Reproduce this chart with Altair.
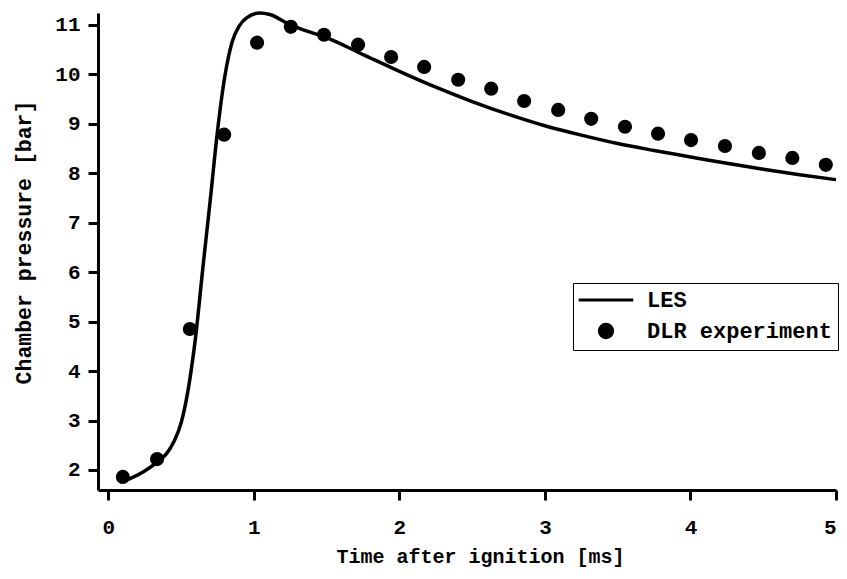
import altair as alt
import pandas as pd

# LES simulation curve (time [ms], pressure [bar])
les_t = [0.08, 0.16, 0.25, 0.335, 0.40, 0.45, 0.50, 0.55, 0.60, 0.65, 0.70, 0.75, 0.80,
         0.85, 0.90, 0.95, 1.04, 1.11, 1.25, 1.50, 1.75, 2.00, 2.25, 2.50, 2.75, 3.00,
         3.25, 3.50, 3.75, 4.00, 4.25, 4.50, 4.75, 5.00]
les_p = [1.76, 1.84, 1.98, 2.16, 2.33, 2.57, 2.95, 3.65, 4.70, 6.10, 7.45, 8.85, 9.95,
         10.65, 10.98, 11.14, 11.24, 11.21, 11.00, 10.74, 10.40, 10.06, 9.74, 9.45, 9.19, 8.96,
         8.77, 8.60, 8.46, 8.33, 8.20, 8.08, 7.97, 7.87]

# DLR experiment points
dlr_t = [0.10, 0.335, 0.56, 0.796, 1.022, 1.254, 1.482, 1.716, 1.943, 2.170, 2.404,
         2.631, 2.857, 3.091, 3.318, 3.55, 3.777, 4.004, 4.237, 4.47, 4.70, 4.93]
dlr_p = [1.86, 2.22, 4.85, 8.78, 10.64, 10.96, 10.80, 10.60, 10.35, 10.15, 9.89,
         9.71, 9.46, 9.28, 9.10, 8.94, 8.80, 8.67, 8.55, 8.41, 8.31, 8.17]

series_names = ["LES", "DLR experiment"]
legend_shapes = ["M-4.1,0H4.1", "circle"]
x_ticks = [0, 1, 2, 3, 4, 5]
y_ticks = [2, 3, 4, 5, 6, 7, 8, 9, 10, 11]

les_df = pd.DataFrame({"t": les_t, "p": les_p, "series": "LES"})
dlr_df = pd.DataFrame({"t": dlr_t, "p": dlr_p, "series": "DLR experiment"})

FONT = "Liberation Mono"

xscale = alt.Scale(domain=[-0.071, 5.0], nice=False, zero=False)
yscale = alt.Scale(domain=[1.595, 11.24], nice=False, zero=False)

xaxis = alt.Axis(values=x_ticks, title="Time after ignition [ms]", grid=False,
                 titleX=382, titleY=72, titleBaseline="alphabetic",
                 labelBaseline="alphabetic", labelPadding=33, format="d")
yaxis = alt.Axis(values=y_ticks, title="Chamber pressure [bar]", grid=False,
                 titleX=-68, titleY=229, titleBaseline="alphabetic", titleFontSize=21.5,
                 labelPadding=8, format="d")

line = alt.Chart(les_df).mark_line(color="black", strokeWidth=3.5, interpolate="monotone").encode(
    x=alt.X("t:Q", scale=xscale, axis=xaxis),
    y=alt.Y("p:Q", scale=yscale, axis=yaxis),
)

legend = alt.Legend(
    orient="none", legendX=475, legendY=270,
    strokeColor="black", fillColor="white", padding=6,
    symbolSize=177, symbolOffset=16, symbolStrokeWidth=3,
    symbolStrokeColor="black", symbolFillColor="black", symbolOpacity=1,
    labelOffset=30, rowPadding=7, labelLimit=400,
    labelFont=FONT, labelFontWeight="bold", labelFontSize=22, labelColor="black",
)

points = alt.Chart(dlr_df).mark_point(size=201, opacity=1, filled=True).encode(
    x=alt.X("t:Q", scale=xscale),
    y=alt.Y("p:Q", scale=yscale),
    color=alt.Color("series:N", title=None,
                    scale=alt.Scale(domain=series_names, range=["black", "black"]),
                    legend=legend),
    shape=alt.Shape("series:N", title=None,
                    scale=alt.Scale(domain=series_names, range=legend_shapes),
                    legend=legend),
)

chart = alt.layer(line, points).properties(
    width=738, height=477,
    autosize=alt.AutoSizeParams(type="none"),
    padding={"left": 98, "top": 13, "right": 11, "bottom": 89},
).configure_view(stroke=None).configure_axis(
    domainColor="black", domainWidth=3, tickColor="black", tickWidth=3, tickSize=10,
    labelFont=FONT, labelFontWeight="bold", labelFontSize=21, labelColor="black",
    titleFont=FONT, titleFontWeight="bold", titleFontSize=20, titleColor="black",
)

chart.save("out.html", embed_options={"renderer": "svg", "actions": False})
